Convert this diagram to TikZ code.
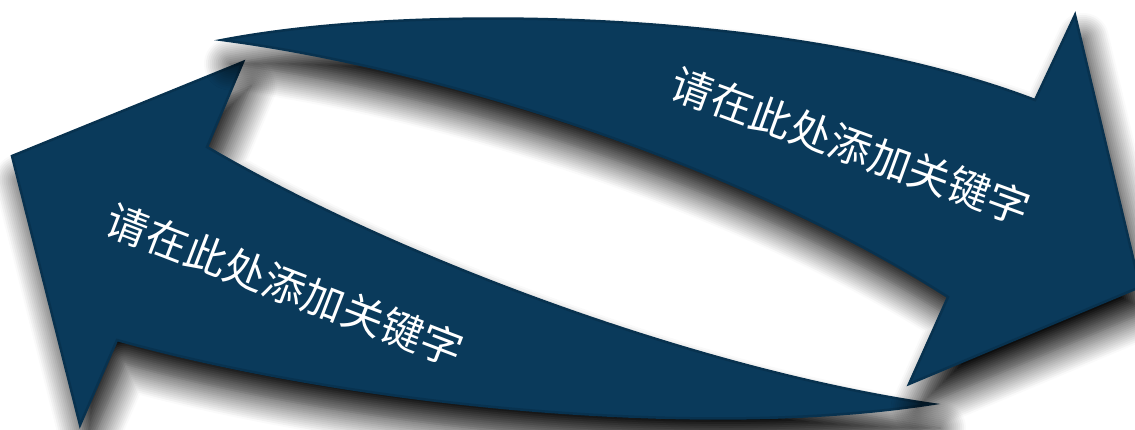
\documentclass[tikz,border=0pt]{standalone}
\usepackage{fontspec}
\newfontfamily\cjk{Noto Sans CJK SC}
\usetikzlibrary{shadows.blur}
\definecolor{navy}{HTML}{0A3A5B}
\definecolor{navyline}{HTML}{08324F}

\begin{document}
\begin{tikzpicture}[
  x=1pt,y=-1pt,
  bigarrow/.style={fill=navy,draw=navyline,line width=2.5pt,line join=miter,
                   blur shadow={shadow xshift=8pt,shadow yshift=-24pt,
                                shadow blur radius=26pt,shadow blur steps=14,
                                shadow opacity=100}},
  keyword/.style={font=\cjk\fontsize{42}{42}\selectfont,text=white,inner sep=0pt},
]

% Frame
\useasboundingbox (0,0) rectangle (1135,429);

% Lower arrow (pointing up-left)
\draw[bigarrow] (207,147) .. controls (400,260) and (700,370) .. (932,404)
  .. controls (700,440) and (350,405) .. (117,340)
  -- (80,425) -- (12,156) -- (243,62) -- cycle;

% Upper arrow (pointing right)
\draw[bigarrow] (222,40) .. controls (420,2) and (800,10) .. (1035,100)
  -- (1075,15) -- (1140,287) -- (909,384) -- (948,297)
  .. controls (750,170) and (450,70) .. cycle;

% Keywords
\node[keyword,rotate=-20] (upperkey) at (851,146) {请在此处添加关键字};
\node[keyword,rotate=-21] (lowerkey) at (285,285) {请在此处添加关键字};

\end{tikzpicture}
\end{document}
